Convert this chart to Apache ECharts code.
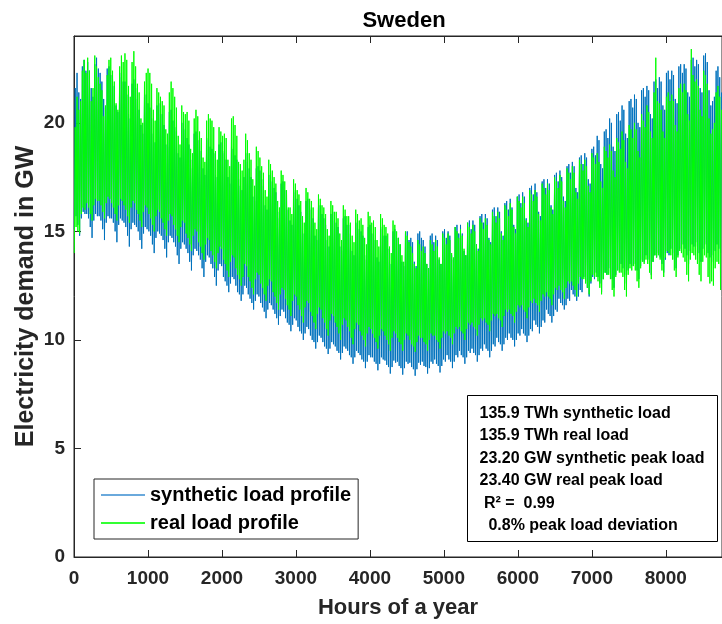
<!DOCTYPE html>
<html>
<head>
<meta charset="utf-8">
<title>Sweden</title>
<script src="https://cdn.jsdelivr.net/npm/echarts@6/dist/echarts.min.js"></script>
<style>
  html, body { margin: 0; padding: 0; background: #fff; }
  #chart { width: 722px; height: 624px; }
</style>
</head>
<body>
<div id="chart"></div>
<script>
// Daily values, one row per week (Thu..Wed), GW.
// synthetic load profile: daily maximum
const synthPeak = [
  21.6, 22.3, 21.4, 21.1, 22.6, 22.9, 22.4,
  22.8, 22.4, 21.6, 21.2, 22.7, 23.0, 22.5,
  22.3, 21.9, 21.1, 20.7, 22.5, 22.6, 22.2,
  22.0, 21.7, 20.8, 20.5, 22.3, 22.1, 21.9,
  21.9, 21.3, 20.4, 20.2, 21.8, 22.0, 21.6,
  21.1, 20.6, 19.9, 19.5, 21.2, 21.3, 20.9,
  20.7, 20.2, 19.5, 19.1, 20.8, 20.9, 20.4,
  20.4, 19.9, 19.0, 18.9, 20.5, 20.6, 20.1,
  19.8, 19.6, 18.6, 18.4, 20.0, 20.1, 19.7,
  19.3, 19.0, 18.3, 17.9, 19.5, 19.6, 19.2,
  19.2, 18.7, 17.9, 17.6, 19.3, 19.2, 18.9,
  18.8, 18.6, 17.6, 17.5, 19.0, 19.1, 18.7,
  18.6, 18.3, 17.5, 17.2, 18.9, 18.8, 18.5,
  18.3, 17.4, 17.1, 16.9, 17.5, 18.6, 18.2,
  17.9, 17.5, 16.6, 16.4, 17.9, 18.0, 17.8,
  17.4, 17.1, 16.2, 16.0, 17.6, 17.7, 17.3,
  17.0, 16.8, 15.9, 15.6, 17.2, 17.3, 16.9,
  16.7, 16.0, 15.5, 15.3, 16.8, 16.9, 16.5,
  16.2, 15.9, 15.1, 14.9, 16.4, 16.5, 16.1,
  16.0, 15.6, 14.8, 14.6, 16.1, 16.2, 15.8,
  15.6, 15.3, 14.6, 14.3, 15.8, 15.9, 15.5,
  15.4, 15.2, 14.3, 14.1, 15.6, 15.7, 15.3,
  15.3, 14.9, 14.1, 13.9, 15.4, 15.5, 15.1,
  15.0, 14.8, 13.9, 13.7, 15.2, 15.3, 14.9,
  14.9, 14.6, 13.8, 13.6, 15.1, 15.2, 14.8,
  14.8, 14.2, 13.6, 13.5, 15.0, 15.1, 14.7,
  14.7, 14.4, 13.6, 13.4, 14.9, 15.0, 14.6,
  14.7, 14.5, 13.6, 13.4, 14.9, 15.0, 14.7,
  14.6, 14.3, 13.5, 13.3, 14.8, 14.9, 14.5,
  14.8, 14.6, 13.7, 13.5, 15.0, 15.1, 14.7,
  15.0, 14.8, 13.9, 13.7, 15.2, 15.3, 14.9,
  15.3, 14.9, 14.1, 13.9, 15.4, 15.5, 15.1,
  15.5, 15.3, 14.4, 14.2, 15.7, 15.8, 15.4,
  15.8, 15.6, 14.7, 14.5, 16.0, 16.1, 15.7,
  16.1, 15.9, 15.0, 14.8, 16.3, 16.4, 16.0,
  16.5, 16.1, 15.3, 15.1, 16.6, 16.7, 16.3,
  16.8, 16.6, 15.6, 15.4, 17.0, 17.1, 16.7,
  17.2, 16.8, 15.9, 15.7, 17.3, 17.4, 17.0,
  17.4, 17.2, 16.2, 16.0, 17.6, 17.7, 17.3,
  17.8, 17.5, 16.6, 16.4, 18.0, 18.1, 17.7,
  18.2, 18.0, 17.0, 16.8, 18.4, 18.5, 18.1,
  18.6, 18.4, 17.4, 17.2, 18.8, 18.9, 18.5,
  19.4, 19.2, 18.1, 17.9, 19.6, 19.7, 19.3,
  20.2, 20.0, 18.9, 18.7, 20.4, 20.5, 20.1,
  20.8, 20.6, 19.5, 19.3, 21.0, 21.1, 20.7,
  21.3, 21.1, 20.0, 19.8, 21.5, 21.6, 21.2,
  21.7, 21.5, 20.4, 20.2, 21.9, 22.0, 21.6,
  22.1, 21.9, 20.8, 20.6, 22.3, 22.4, 22.0,
  22.4, 22.2, 21.1, 20.9, 22.6, 22.7, 22.3,
  22.7, 22.5, 21.4, 21.2, 22.9, 23.0, 22.6,
  22.9, 22.7, 21.6, 21.4, 23.1, 23.2, 22.8,
  21.5, 20.8, 21.0, 21.2, 22.4, 22.6, 22.1,
  21.4
];

// synthetic load profile: daily minimum
const synthLow = [
  15.1, 15.7, 15.3, 14.8, 15.6, 15.9, 15.8,
  15.8, 15.6, 15.2, 14.7, 15.5, 15.8, 15.7,
  15.7, 15.5, 15.1, 14.6, 15.4, 15.7, 15.6,
  15.6, 15.4, 15.0, 14.5, 15.3, 15.6, 15.5,
  15.4, 15.2, 14.8, 14.3, 15.1, 15.4, 15.3,
  15.2, 15.0, 14.6, 14.2, 14.9, 15.2, 15.1,
  15.0, 14.8, 14.4, 14.0, 14.7, 15.0, 14.9,
  14.8, 14.6, 14.2, 13.8, 14.5, 14.8, 14.7,
  14.5, 14.3, 13.9, 13.5, 14.2, 14.5, 14.4,
  14.2, 14.0, 13.6, 13.2, 13.9, 14.2, 14.1,
  13.9, 13.7, 13.3, 12.9, 13.6, 13.9, 13.8,
  13.5, 13.3, 12.9, 12.5, 13.2, 13.5, 13.4,
  12.9, 12.7, 12.5, 12.2, 12.6, 12.9, 12.8,
  12.5, 12.2, 12.1, 11.8, 12.1, 12.5, 12.4,
  12.1, 11.9, 11.7, 11.4, 11.8, 12.1, 12.0,
  11.7, 11.5, 11.3, 11.0, 11.4, 11.7, 11.6,
  11.4, 11.2, 11.0, 10.7, 11.1, 11.4, 11.3,
  11.0, 10.8, 10.7, 10.4, 10.7, 11.0, 10.9,
  10.6, 10.4, 10.3, 10.0, 10.3, 10.6, 10.5,
  10.2, 10.0, 9.9, 9.6, 9.9, 10.2, 10.1,
  9.9, 9.7, 9.6, 9.35, 9.6, 9.9, 9.8,
  9.7, 9.5, 9.4, 9.1, 9.4, 9.7, 9.6,
  9.5, 9.3, 9.2, 8.9, 9.2, 9.5, 9.4,
  9.3, 9.1, 9.0, 8.7, 9.0, 9.3, 9.2,
  9.2, 9.0, 8.9, 8.6, 8.9, 9.2, 9.1,
  9.05, 8.85, 8.75, 8.45, 8.75, 9.05, 8.95,
  9.0, 8.8, 8.7, 8.4, 8.7, 9.0, 8.9,
  8.95, 8.75, 8.65, 8.35, 8.65, 8.95, 8.85,
  9.0, 8.8, 8.75, 8.45, 8.7, 9.0, 8.9,
  9.1, 8.9, 8.8, 8.5, 8.8, 9.1, 9.0,
  9.3, 9.1, 9.0, 8.7, 9.0, 9.3, 9.2,
  9.5, 9.3, 9.2, 8.9, 9.2, 9.5, 9.4,
  9.6, 9.4, 9.3, 9.0, 9.3, 9.6, 9.5,
  9.8, 9.6, 9.5, 9.2, 9.5, 9.8, 9.7,
  10.1, 9.9, 9.8, 9.5, 9.8, 10.1, 10.0,
  10.3, 10.1, 10.0, 9.7, 10.0, 10.3, 10.2,
  10.5, 10.3, 10.2, 9.9, 10.2, 10.5, 10.4,
  10.9, 10.7, 10.6, 10.3, 10.6, 10.9, 10.8,
  11.4, 11.2, 11.1, 10.8, 11.1, 11.4, 11.3,
  11.9, 11.7, 11.6, 11.4, 11.6, 11.9, 11.8,
  12.3, 12.1, 12.0, 11.8, 12.0, 12.3, 12.2,
  12.9, 12.7, 12.4, 12.0, 12.6, 12.9, 12.8,
  13.1, 12.9, 12.6, 12.2, 12.8, 13.1, 13.0,
  13.3, 13.1, 12.8, 12.4, 13.0, 13.3, 13.2,
  13.5, 13.3, 13.0, 12.6, 13.2, 13.5, 13.4,
  13.7, 13.5, 13.2, 12.8, 13.4, 13.7, 13.6,
  13.9, 13.7, 13.4, 13.0, 13.6, 13.9, 13.8,
  14.0, 13.8, 13.5, 13.1, 13.7, 14.0, 13.9,
  14.2, 14.0, 13.7, 13.3, 13.9, 14.2, 14.1,
  14.4, 14.2, 13.9, 13.5, 14.1, 14.4, 14.3,
  14.5, 14.3, 14.0, 13.6, 14.2, 14.5, 14.4,
  14.0, 13.8, 13.9, 13.6, 14.1, 14.4, 14.2,
  14.0
];

// real load profile: daily maximum
const realPeak = [
  19.8, 21.2, 20.6, 21.0, 22.4, 22.9, 22.3,
  23.0, 22.4, 21.0, 21.6, 23.1, 22.6, 22.1,
  21.8, 21.5, 20.3, 20.8, 22.2, 22.9, 23.0,
  22.4, 21.9, 20.9, 20.6, 22.6, 23.1, 22.8,
  23.2, 22.9, 21.7, 21.2, 22.8, 23.3, 22.6,
  21.8, 21.4, 20.2, 20.0, 21.9, 22.3, 22.5,
  22.3, 21.8, 20.6, 20.1, 21.6, 21.4, 21.2,
  21.0, 20.8, 19.7, 19.5, 21.4, 21.9, 21.6,
  21.2, 20.7, 19.4, 19.0, 20.8, 20.5, 20.4,
  20.5, 20.1, 18.8, 18.6, 20.2, 20.6, 20.3,
  19.6, 19.3, 18.4, 18.2, 20.1, 20.4, 20.2,
  20.1, 19.8, 18.7, 18.3, 19.8, 19.6, 19.4,
  19.5, 19.3, 18.3, 18.0, 20.2, 20.3, 19.9,
  19.4, 18.2, 18.1, 17.8, 18.3, 19.5, 19.2,
  18.6, 18.3, 17.4, 17.1, 18.9, 18.7, 18.4,
  18.0, 17.7, 16.9, 16.6, 18.3, 18.1, 17.8,
  17.5, 17.2, 16.4, 16.1, 17.8, 17.6, 17.3,
  16.9, 16.1, 16.1, 15.8, 17.4, 17.2, 16.9,
  16.7, 16.4, 15.7, 15.4, 17.0, 16.8, 16.5,
  16.4, 16.1, 15.4, 15.1, 16.7, 16.5, 16.2,
  16.1, 15.8, 15.1, 14.8, 16.4, 16.2, 15.9,
  15.9, 15.6, 14.9, 14.6, 16.2, 16.0, 15.7,
  15.7, 15.4, 14.8, 14.5, 16.0, 15.8, 15.5,
  15.6, 15.3, 14.7, 14.4, 15.9, 15.7, 15.4,
  15.5, 15.2, 14.6, 14.3, 15.8, 15.6, 15.3,
  15.2, 14.9, 14.3, 14.0, 15.5, 15.3, 15.0,
  14.7, 14.4, 13.9, 13.6, 15.0, 14.8, 14.5,
  14.3, 14.0, 13.5, 13.3, 14.6, 14.4, 14.1,
  14.3, 14.0, 13.5, 13.3, 14.6, 14.4, 14.1,
  14.6, 14.3, 13.8, 13.5, 14.9, 14.7, 14.4,
  14.9, 14.6, 14.0, 13.8, 15.2, 15.0, 14.7,
  15.1, 14.8, 14.2, 13.9, 15.4, 15.2, 14.9,
  15.3, 15.0, 14.4, 14.1, 15.6, 15.4, 15.1,
  15.6, 15.3, 14.6, 14.4, 15.9, 15.7, 15.4,
  15.9, 15.6, 14.9, 14.6, 16.2, 16.0, 15.7,
  16.3, 16.0, 15.2, 14.9, 16.6, 16.4, 16.1,
  16.6, 16.3, 15.5, 15.2, 16.9, 16.7, 16.4,
  16.9, 16.6, 15.8, 15.5, 17.2, 17.0, 16.7,
  17.2, 16.9, 16.1, 15.8, 17.5, 17.3, 17.0,
  17.6, 17.3, 16.4, 16.1, 17.9, 17.7, 17.4,
  18.0, 17.7, 16.8, 16.5, 18.3, 18.1, 17.8,
  18.3, 18.0, 17.1, 16.8, 18.6, 18.4, 18.1,
  18.6, 18.2, 17.3, 17.0, 18.9, 18.7, 18.4,
  19.0, 18.7, 17.8, 17.5, 19.3, 19.1, 18.8,
  19.6, 19.2, 18.2, 17.9, 19.9, 19.7, 19.3,
  20.0, 19.7, 18.7, 18.4, 20.4, 20.1, 19.8,
  20.8, 20.5, 19.6, 19.3, 21.4, 23.0, 21.0,
  20.9, 20.6, 19.6, 19.3, 21.2, 21.4, 21.0,
  21.3, 21.0, 19.9, 19.6, 21.6, 21.8, 21.4,
  21.8, 21.5, 20.4, 20.1, 23.4, 22.2, 21.9,
  22.0, 21.7, 20.6, 20.3, 22.4, 22.2, 21.8,
  20.2, 19.5, 19.7, 20.0, 21.4, 21.7, 21.2,
  20.6
];

// real load profile: daily minimum
const realLow = [
  14.0, 15.2, 15.0, 14.9, 15.8, 16.1, 16.0,
  16.3, 16.1, 15.8, 15.5, 16.2, 16.5, 16.4,
  16.4, 16.2, 15.9, 15.6, 16.3, 16.6, 16.5,
  16.3, 16.1, 15.8, 15.5, 16.2, 16.5, 16.4,
  16.2, 16.0, 15.7, 15.4, 16.1, 16.4, 16.3,
  16.0, 15.8, 15.5, 15.2, 15.9, 16.2, 16.1,
  15.8, 15.6, 15.3, 15.0, 15.7, 16.0, 15.9,
  15.6, 15.4, 15.1, 14.8, 15.5, 15.8, 15.7,
  15.3, 15.1, 14.8, 14.5, 15.2, 15.5, 15.4,
  14.9, 14.7, 14.4, 14.1, 14.8, 15.1, 15.0,
  14.5, 14.3, 14.0, 13.7, 14.4, 14.7, 14.6,
  14.1, 13.9, 13.6, 13.3, 14.0, 14.3, 14.2,
  13.7, 13.5, 13.2, 12.9, 13.6, 13.9, 13.8,
  13.3, 13.0, 12.8, 12.5, 12.9, 13.5, 13.4,
  12.9, 12.7, 12.4, 12.1, 12.8, 13.1, 13.0,
  12.6, 12.4, 12.1, 11.8, 12.5, 12.8, 12.7,
  12.2, 12.0, 11.7, 11.4, 12.1, 12.4, 12.3,
  11.9, 11.6, 11.4, 11.1, 11.8, 12.1, 12.0,
  11.6, 11.4, 11.1, 10.8, 11.5, 11.8, 11.7,
  11.3, 11.1, 10.8, 10.5, 11.2, 11.5, 11.4,
  11.0, 10.8, 10.5, 10.2, 10.9, 11.2, 11.1,
  10.8, 10.6, 10.3, 10.0, 10.7, 11.0, 10.9,
  10.6, 10.4, 10.1, 9.8, 10.5, 10.8, 10.7,
  10.4, 10.2, 10.0, 9.7, 10.3, 10.6, 10.5,
  10.3, 10.1, 9.9, 9.6, 10.2, 10.5, 10.4,
  10.2, 10.0, 9.8, 9.5, 10.1, 10.4, 10.3,
  10.1, 9.9, 9.8, 9.5, 10.0, 10.3, 10.2,
  10.0, 9.8, 9.7, 9.45, 9.9, 10.2, 10.1,
  10.1, 9.9, 9.8, 9.5, 10.0, 10.3, 10.2,
  10.2, 10.0, 9.9, 9.6, 10.1, 10.4, 10.3,
  10.4, 10.2, 10.1, 9.8, 10.3, 10.6, 10.5,
  10.6, 10.4, 10.3, 10.0, 10.5, 10.8, 10.7,
  10.8, 10.6, 10.5, 10.2, 10.7, 11.0, 10.9,
  11.0, 10.8, 10.7, 10.4, 10.9, 11.2, 11.1,
  11.2, 11.0, 10.9, 10.6, 11.1, 11.4, 11.3,
  11.4, 11.2, 11.1, 10.8, 11.3, 11.6, 11.5,
  11.6, 11.4, 11.3, 11.0, 11.5, 11.8, 11.7,
  11.9, 11.7, 11.6, 11.3, 11.8, 12.1, 12.0,
  12.2, 12.0, 11.9, 11.6, 12.1, 12.4, 12.3,
  12.5, 12.3, 12.2, 11.9, 12.4, 12.7, 12.6,
  12.7, 12.5, 12.3, 12.0, 12.6, 12.9, 12.8,
  12.8, 12.6, 12.4, 12.1, 12.7, 13.0, 12.9,
  12.9, 12.7, 12.4, 12.1, 12.8, 13.1, 13.0,
  13.0, 12.8, 12.3, 12.0, 12.9, 13.2, 13.1,
  13.1, 12.9, 12.3, 12.0, 13.0, 13.3, 13.2,
  13.4, 13.2, 12.7, 12.4, 13.3, 13.6, 13.5,
  13.7, 13.5, 13.1, 12.8, 13.6, 13.9, 13.8,
  13.9, 13.7, 13.2, 12.9, 13.8, 14.1, 14.0,
  13.9, 13.7, 13.2, 12.9, 13.8, 14.1, 14.0,
  13.8, 13.6, 13.0, 12.7, 13.7, 14.0, 13.9,
  13.7, 13.5, 13.0, 12.7, 13.6, 13.9, 13.8,
  12.9, 12.6, 12.7, 12.5, 13.3, 13.6, 13.5,
  12.3
];

const statsLines = [
  '135.9 TWh synthetic load',
  '135.9 TWh real load',
  '23.20 GW synthetic peak load',
  '23.40 GW real peak load',
  ' R\u00b2 =  0.99',
  '  0.8% peak load deviation'
];

const FONT = "'Liberation Sans', Arial, Helvetica, sans-serif";
const INK = '#262626';

// night trough and evening peak of each day
function dailyPoints(low, peak) {
  const pts = [];
  for (let d = 0; d < low.length; d++) {
    pts.push([d * 24 + 4, low[d]]);
    pts.push([d * 24 + 17, peak[d]]);
  }
  return pts;
}

const chart = echarts.init(document.getElementById('chart'));

const axisLabelStyle = {
  fontFamily: FONT,
  fontSize: 19,
  fontWeight: 'bold',
  color: INK
};

chart.setOption({
  animation: false,
  backgroundColor: '#fff',
  grid: {
    left: 74,
    right: -12,
    top: 36,
    bottom: 65,
    show: true,
    borderColor: INK,
    borderWidth: 1
  },
  xAxis: [
    {
      type: 'value',
      min: 0,
      max: 8760,
      interval: 1000,
      name: 'Hours of a year',
      nameLocation: 'middle',
      nameGap: 40,
      nameTextStyle: { fontFamily: FONT, fontSize: 22, fontWeight: 'bold', color: INK },
      axisLine: { show: true, lineStyle: { color: INK, width: 1 } },
      axisTick: { show: true, inside: true, length: 7, lineStyle: { color: INK } },
      axisLabel: Object.assign({
        margin: 12,
        showMaxLabel: false,
        formatter: function (v) { return String(v); }
      }, axisLabelStyle),
      splitLine: { show: false }
    },
    {
      type: 'value',
      position: 'top',
      min: 0,
      max: 8760,
      interval: 1000,
      axisLine: { show: true, lineStyle: { color: INK, width: 1 } },
      axisTick: { show: true, inside: true, length: 7, lineStyle: { color: INK } },
      axisLabel: { show: false },
      splitLine: { show: false }
    }
  ],
  yAxis: {
    type: 'value',
    min: 0,
    max: 24,
    interval: 5,
    name: 'Electricity demand in GW',
    nameLocation: 'middle',
    nameGap: 35,
    nameMoveOverlap: false,
    nameTextStyle: { fontFamily: FONT, fontSize: 25, fontWeight: 'bold', color: INK },
    axisLine: { show: true, lineStyle: { color: INK, width: 1 } },
    axisTick: { show: true, inside: true, length: 7, lineStyle: { color: INK } },
    axisLabel: Object.assign({ margin: 9, showMaxLabel: false }, axisLabelStyle),
    splitLine: { show: false }
  },
  legend: {
    orient: 'vertical',
    left: 94,
    top: 479,
    padding: [6, 7, 6, 7],
    itemGap: 8,
    itemWidth: 44,
    itemHeight: 2,
    backgroundColor: '#fff',
    borderColor: INK,
    borderWidth: 1,
    borderRadius: 0,
    textStyle: { fontFamily: FONT, fontSize: 20, fontWeight: 'bold', color: '#000' },
    data: [
      { name: 'synthetic load profile', icon: 'rect', itemStyle: { color: '#6aa9dc' } },
      { name: 'real load profile', icon: 'rect', itemStyle: { color: '#33ff33' } }
    ]
  },
  graphic: [
    {
      type: 'text',
      x: 404,
      y: 21,
      style: {
        text: 'Sweden',
        align: 'center',
        verticalAlign: 'middle',
        font: 'bold 22px ' + FONT,
        fill: '#000'
      }
    },
    {
      type: 'group',
      left: 467,
      top: 395,
      z: 100,
      children: [
        {
          type: 'rect',
          shape: { x: 0, y: 0, width: 250, height: 146 },
          style: { fill: '#fff', stroke: '#000', lineWidth: 1 }
        }
      ].concat(statsLines.map(function (line, i) {
        return {
          type: 'text',
          x: 12,
          y: 18 + i * 22.4,
          style: {
            text: line,
            verticalAlign: 'middle',
            font: 'bold 16px ' + FONT,
            fill: '#000'
          }
        };
      }))
    }
  ],
  series: [
    {
      name: 'synthetic load profile',
      type: 'line',
      showSymbol: false,
      symbol: 'none',
      data: dailyPoints(synthLow, synthPeak),
      lineStyle: { color: '#0072BD', width: 1 },
      itemStyle: { color: '#0072BD' },
      z: 2
    },
    {
      name: 'real load profile',
      type: 'line',
      showSymbol: false,
      symbol: 'none',
      data: dailyPoints(realLow, realPeak),
      lineStyle: { color: '#00FF00', width: 1 },
      itemStyle: { color: '#00FF00' },
      z: 3
    }
  ]
});
</script>
</body>
</html>
